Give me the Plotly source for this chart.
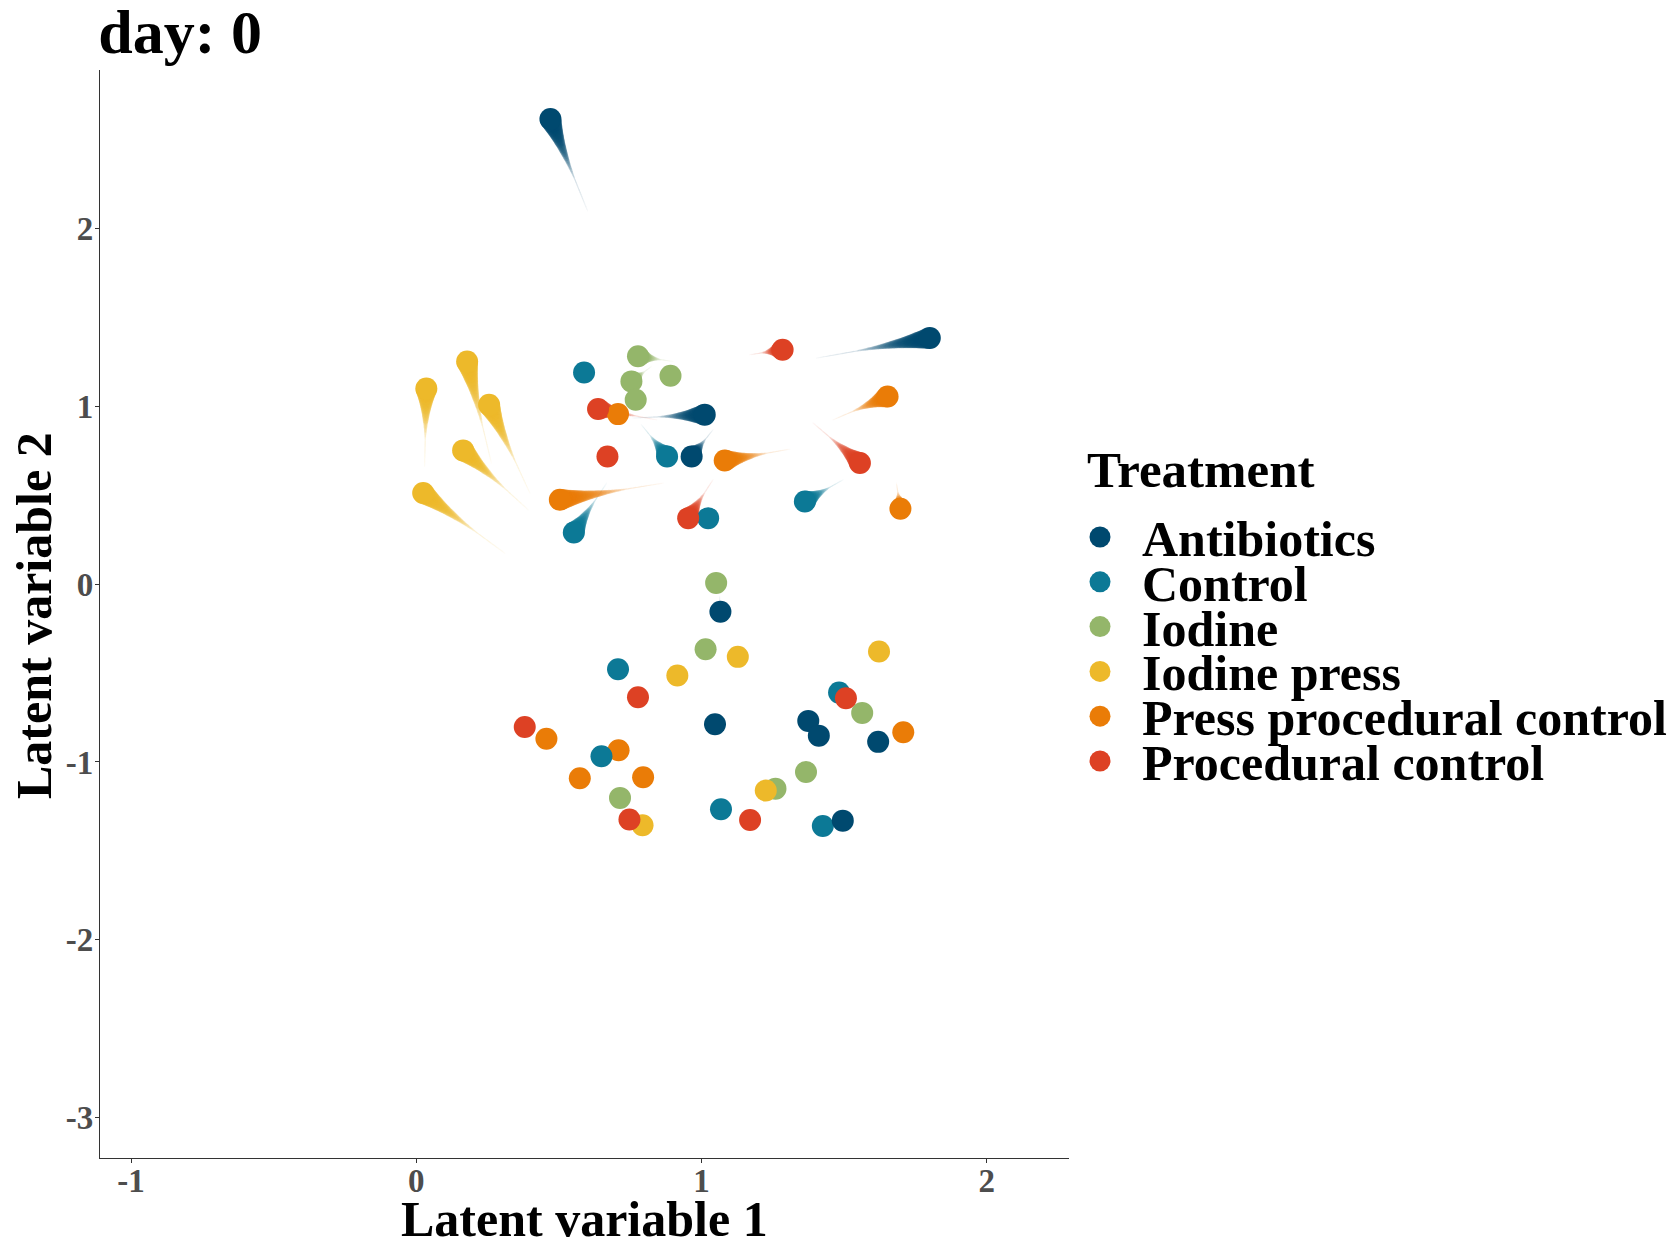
import math
import plotly.graph_objects as go

# ---------------- data ----------------
treatments = ["Antibiotics", "Control", "Iodine", "Iodine press",
              "Press procedural control", "Procedural control"]
colors = ["#00496F", "#0C7996", "#94B66A", "#EDB92A", "#EA7C07", "#DD4124"]

# current (day 0) positions
antibiotics_x = [0.470, 1.800, 1.011, 0.965, 1.066, 1.047, 1.374, 1.411, 1.619, 1.495]
antibiotics_y = [2.615, 1.384, 0.953, 0.718, -0.155, -0.788, -0.769, -0.852, -0.887, -1.330]
control_x = [0.588, 0.879, 0.552, 1.023, 1.362, 0.707, 1.482, 0.649, 1.068, 1.425]
control_y = [1.190, 0.718, 0.290, 0.371, 0.465, -0.479, -0.610, -0.968, -1.266, -1.360]
iodine_x = [0.777, 0.891, 0.754, 0.769, 1.051, 1.014, 1.563, 0.714, 1.259, 1.366]
iodine_y = [1.281, 1.172, 1.140, 1.037, 0.007, -0.366, -0.724, -1.202, -1.150, -1.056]
iodine_press_x = [0.035, 0.178, 0.255, 0.164, 0.024, 1.127, 0.915, 1.622, 0.793, 1.225]
iodine_press_y = [1.100, 1.252, 1.009, 0.752, 0.512, -0.409, -0.514, -0.379, -1.356, -1.161]
press_proc_x = [1.652, 0.707, 1.081, 0.503, 1.697, 1.707, 0.456, 0.709, 0.573, 0.795]
press_proc_y = [1.055, 0.956, 0.695, 0.474, 0.424, -0.833, -0.870, -0.934, -1.092, -1.086]
proc_x = [1.284, 0.637, 0.670, 1.555, 0.953, 0.777, 1.506, 0.380, 0.747, 1.170]
proc_y = [1.318, 0.985, 0.718, 0.681, 0.371, -0.636, -0.642, -0.803, -1.324, -1.326]

# wake origin (previous position) for each point; None = no visible wake
antibiotics_wx = [0.600, 1.403, 0.760, 1.040, 1.063, None, None, None, None, None]
antibiotics_wy = [2.100, 1.271, 0.934, 0.868, -0.070, None, None, None, None, None]
control_wx = [0.612, 0.789, 0.667, None, 1.496, None, None, None, None, None]
control_wy = [1.186, 0.896, 0.568, None, 0.587, None, None, None, None, None]
iodine_wx = [0.900, None, 0.824, None, None, None, None, None, None, None]
iodine_wy = [1.252, None, 1.224, None, None, None, None, None, None, None]
iodine_press_wx = [0.029, 0.263, 0.398, 0.392, 0.310, None, None, None, None, None]
iodine_press_wy = [0.662, 0.681, 0.512, 0.418, 0.174, None, None, None, None, None]
press_proc_wx = [1.461, None, 1.309, 0.865, 1.683, None, None, None, None, None]
press_proc_wy = [0.924, None, 0.759, 0.568, 0.568, None, None, None, None, None]
proc_wx = [1.169, 0.842, None, 1.391, 1.040, None, None, None, None, None]
proc_wy = [1.290, 0.924, None, 0.906, 0.587, None, None, None, None, None]

x_ticks = [-1, 0, 1, 2]
x_tick_labels = ["-1", "0", "1", "2"]
y_ticks = [-3, -2, -1, 0, 1, 2]
y_tick_labels = ["-3", "-2", "-1", "0", "1", "2"]

title_text = "day: 0"
x_title = "Latent variable 1"
y_title = "Latent variable 2"
legend_title = "Treatment"

# ---------------- layout constants ----------------
W, H = 1675, 1240
ML, MR, MT, MB = 100, 606, 70, 82
PW, PH = W - ML - MR, H - MT - MB
XR = [-1.109, 2.288]
YR = [-3.227, 2.891]
FONT = "Liberation Serif, Times New Roman, serif"
MSIZE = 22

groups = [
    (antibiotics_x, antibiotics_y, antibiotics_wx, antibiotics_wy),
    (control_x, control_y, control_wx, control_wy),
    (iodine_x, iodine_y, iodine_wx, iodine_wy),
    (iodine_press_x, iodine_press_y, iodine_press_wx, iodine_press_wy),
    (press_proc_x, press_proc_y, press_proc_wx, press_proc_wy),
    (proc_x, proc_y, proc_wx, proc_wy),
]

fig = go.Figure()
sx = PW / (XR[1] - XR[0])
sy = PH / (YR[1] - YR[0])

# wakes (drawn beneath the points)
for name, col, (gx, gy, wx, wy) in zip(treatments, colors, groups):
    txs, tys, tss, tos = [], [], [], []
    for x, y, x0, y0 in zip(gx, gy, wx, wy):
        if x0 is None:
            continue
        L = math.hypot((x0 - x) * sx, (y0 - y) * sy)
        n = max(8, int(L / 1.2))
        for i in range(1, n + 1):
            t = i / n
            txs.append(x + (x0 - x) * t)
            tys.append(y + (y0 - y) * t)
            tss.append(max(1.4, MSIZE * (1 - t) ** 2.6))
            tos.append(0.30 * (1 - t) ** 0.7 + 0.03)
    if txs:
        fig.add_trace(go.Scatter(
            x=txs, y=tys, mode="markers", showlegend=False, hoverinfo="skip",
            marker=dict(color=col, size=tss, opacity=tos, line=dict(width=0)),
        ))

# points (drawing order so that overlaps resemble the original)
draw_order = [2, 3, 4, 1, 0, 5]
for k in draw_order:
    gx, gy, _, _ = groups[k]
    fig.add_trace(go.Scatter(
        x=gx, y=gy, mode="markers", name=treatments[k], showlegend=False,
        marker=dict(color=colors[k], size=MSIZE, line=dict(width=0)),
    ))

# helpers for pixel placement of text in paper coordinates
def px_to_paper_x(px):
    return (px - ML) / PW

def px_to_paper_y(py):
    return (MT + PH - py) / PH

annotations = []
shapes = []

# axis titles
annotations.append(dict(
    text="<b>%s</b>" % x_title, xref="paper", yref="paper",
    x=0.5, y=px_to_paper_y(1219), xanchor="center", yanchor="middle",
    showarrow=False, font=dict(family=FONT, size=50, color="black"),
))
annotations.append(dict(
    text="<b>%s</b>" % y_title, xref="paper", yref="paper", textangle=-90,
    x=px_to_paper_x(34), y=px_to_paper_y(616), xanchor="center", yanchor="middle",
    showarrow=False, font=dict(family=FONT, size=50, color="black"),
))

# custom legend (ggplot-like spacing)
annotations.append(dict(
    text="<b>%s</b>" % legend_title, xref="paper", yref="paper",
    x=px_to_paper_x(1085), y=px_to_paper_y(470), xanchor="left", yanchor="middle",
    showarrow=False, font=dict(family=FONT, size=51, color="black"),
))
for i, (name, col) in enumerate(zip(treatments, colors)):
    cy = 537 + i * 44.8
    shapes.append(dict(
        type="circle", xref="paper", yref="paper", xsizemode="pixel", ysizemode="pixel",
        xanchor=px_to_paper_x(1100), yanchor=px_to_paper_y(cy),
        x0=-10.5, x1=10.5, y0=-10.5, y1=10.5,
        fillcolor=col, line=dict(width=0),
    ))
    annotations.append(dict(
        text="<b>%s</b>" % name, xref="paper", yref="paper",
        x=px_to_paper_x(1140), y=px_to_paper_y(cy + 2), xanchor="left", yanchor="middle",
        showarrow=False, font=dict(family=FONT, size=50, color="black"),
    ))

axis_common = dict(
    showgrid=False, zeroline=False, showline=True, linecolor="#333333", linewidth=1.2,
    ticks="outside", ticklen=4, tickwidth=1, tickcolor="#333333", automargin=False,
    tickfont=dict(family=FONT, size=33, color="#4D4D4D", weight="bold"),
)

fig.update_layout(
    width=W, height=H, autosize=False,
    margin=dict(l=ML, r=MR, t=MT, b=MB, autoexpand=False),
    paper_bgcolor="white", plot_bgcolor="white",
    showlegend=False,
    title=dict(text="<b>%s</b>" % title_text, x=ML / W - 0.001, xanchor="left", xref="container",
               y=1 - 31 / H, yanchor="middle", yref="container", automargin=False,
               font=dict(family=FONT, size=62, color="black")),
    xaxis=dict(range=XR, tickvals=x_ticks, ticktext=x_tick_labels, ticklabelstandoff=-11,
               **axis_common),
    yaxis=dict(range=YR, tickvals=y_ticks, ticktext=y_tick_labels, ticklabelstandoff=-5,
               **axis_common),
    annotations=annotations,
    shapes=shapes,
)

fig.write_html(
    "out.html",
    config={"displayModeBar": False},
    post_script="document.body.style.margin='0px';document.body.style.overflow='hidden';",
)
